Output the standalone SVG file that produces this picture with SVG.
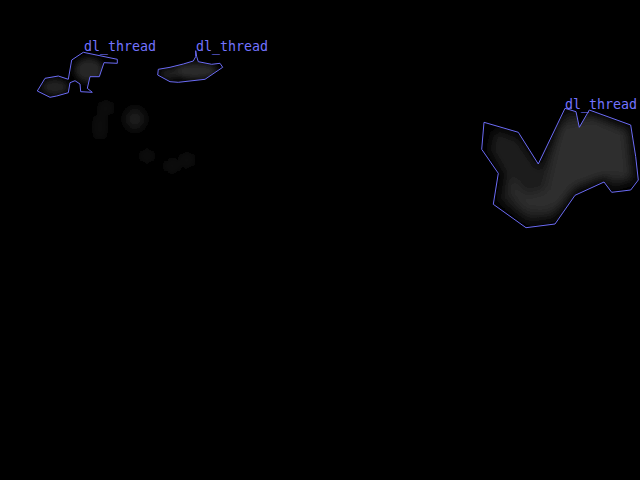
<svg xmlns="http://www.w3.org/2000/svg" width="640" height="480" viewBox="0 0 640 480">
<style>
.outline{fill:none;stroke:#6b6bf5;stroke-width:1;stroke-linejoin:miter}
.label{font-family:"DejaVu Sans Mono",monospace;font-size:13.3px;fill:#7373ff}
.faint{fill:#151515}
</style>
<defs>
<filter id="blur3" x="-50%" y="-50%" width="200%" height="200%"><feGaussianBlur stdDeviation="3"/></filter>
<filter id="blur5" x="-50%" y="-50%" width="200%" height="200%"><feGaussianBlur stdDeviation="5"/></filter>
<clipPath id="c1"><polygon points="83.3,52.3 117.3,59.3 117.3,63.3 104,62.7 99.3,76.7 90,76.7 87.3,88.3 92.3,92.3 80.7,91.7 80,84 75,80.7 70,82.7 68.3,92.7 56.7,96 50,97.3 37.3,91 45,78.3 58.3,76 68.3,79.3 71.7,60"/></clipPath>
<clipPath id="c2"><polygon points="195.7,50.7 195.7,56.7 193.3,61 183.3,64 170,67.3 158.3,69.3 157.7,75 170,81.7 178.3,82.3 205,79.3 222.7,67.3 220,63.3 211.7,64.3 198.3,61.7 196.7,56.7"/></clipPath>
<clipPath id="c3"><polygon points="565,108.3 576,111.7 579.3,127.3 589.3,110 630.7,125 635.7,156.7 638.3,180 630.7,190 611.7,192.3 604,182 575,195.3 555,224 526,227.7 493.3,204.3 498.3,173.3 481.7,149.3 484,122.3 518.3,132.3 538.3,164"/></clipPath>
</defs>
<rect width="640" height="480" fill="#000000"/>
<g id="background-blobs" filter="url(#blur5)">
<ellipse class="faint" cx="106" cy="108" rx="6" ry="7"/>
<ellipse cx="135" cy="119" rx="10" ry="11" fill="#1c1c1c"/>
<ellipse class="faint" cx="100" cy="127" rx="5" ry="13"/>
<ellipse class="faint" cx="147" cy="156" rx="6" ry="6"/>
<ellipse class="faint" cx="172" cy="166" rx="7" ry="6"/>
<ellipse class="faint" cx="187" cy="160" rx="6" ry="7"/>
</g>
<g id="object1">
<g clip-path="url(#c1)" filter="url(#blur3)">
<ellipse cx="89" cy="70" rx="14" ry="12" fill="#262626"/>
<ellipse cx="55" cy="87" rx="13" ry="8" fill="#222222"/>
</g>
<polygon class="outline" points="83.3,52.3 117.3,59.3 117.3,63.3 104,62.7 99.3,76.7 90,76.7 87.3,88.3 92.3,92.3 80.7,91.7 80,84 75,80.7 70,82.7 68.3,92.7 56.7,96 50,97.3 37.3,91 45,78.3 58.3,76 68.3,79.3 71.7,60"/>
<text class="label" x="84" y="51">dl_thread</text>
</g>
<g id="object2">
<g clip-path="url(#c2)" filter="url(#blur3)">
<ellipse cx="195" cy="71" rx="22" ry="8" fill="#2a2a2a"/>
<ellipse cx="170" cy="74" rx="10" ry="5" fill="#222222"/>
</g>
<polygon class="outline" points="195.7,50.7 195.7,56.7 193.3,61 183.3,64 170,67.3 158.3,69.3 157.7,75 170,81.7 178.3,82.3 205,79.3 222.7,67.3 220,63.3 211.7,64.3 198.3,61.7 196.7,56.7"/>
<text class="label" x="196" y="51">dl_thread</text>
</g>
<g id="object3">
<g clip-path="url(#c3)" filter="url(#blur5)">
<polygon points="565,112 590,114 630,128 635,180 612,188 604,178 575,190 555,218 528,222 500,200 505,175 490,150 495,130 518,138 540,170" fill="#1a1a1a"/>
<polygon points="560,125 595,118 625,132 630,178 605,176 575,186 560,205 545,212 525,210 512,195 510,175 525,195 545,190 552,160" fill="#2e2e2e"/>
</g>
<polygon class="outline" points="565,108.3 576,111.7 579.3,127.3 589.3,110 630.7,125 635.7,156.7 638.3,180 630.7,190 611.7,192.3 604,182 575,195.3 555,224 526,227.7 493.3,204.3 498.3,173.3 481.7,149.3 484,122.3 518.3,132.3 538.3,164"/>
<text class="label" x="565" y="109">dl_thread</text>
</g>
</svg>
